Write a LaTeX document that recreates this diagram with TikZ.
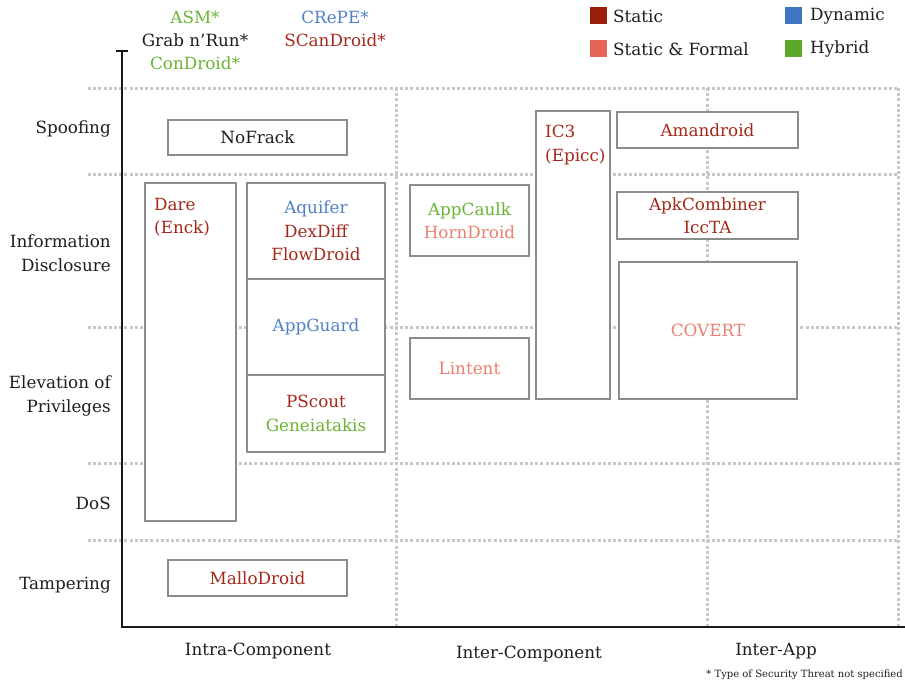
\documentclass[tikz,border=0pt]{standalone}
\usepackage{fontspec}
\setmainfont{DejaVu Serif}
\definecolor{cstatic}{RGB}{165,40,25}
\definecolor{cstaticsq}{RGB}{155,30,10}
\definecolor{cformal}{RGB}{236,128,112}
\definecolor{cformalsq}{RGB}{230,100,85}
\definecolor{cdyn}{RGB}{80,128,200}
\definecolor{cdynsq}{RGB}{63,116,192}
\definecolor{chyb}{RGB}{106,180,52}
\definecolor{chybsq}{RGB}{93,168,41}
\definecolor{cbox}{RGB}{140,140,140}
\definecolor{cgrid}{RGB}{200,200,200}
\definecolor{ctext}{RGB}{30,30,30}
\begin{document}
\begin{tikzpicture}[x=1pt,y=-1pt,
  every node/.style={font=\fontsize{16.8}{23.5}\selectfont, text=ctext, inner sep=0pt},
  gridline/.style={draw=cgrid, line width=3pt, dash pattern=on 3pt off 2.2pt},
  axisline/.style={draw=black!90, line width=2.5pt},
  toolbox/.style={draw=cbox, line width=2.5pt, fill=white, align=center},
  lbl/.style={anchor=east, align=right},
  legsq/.style={minimum width=17pt, minimum height=17pt, anchor=north west}
]
\useasboundingbox (0,0) rectangle (905,685);
% grid
\foreach \yy in {88,174,327,463,540} {\draw[gridline] (88,\yy) -- (898,\yy);}
\foreach \xx in {396,707,898} {\draw[gridline] (\xx,88) -- (\xx,627);}
% axes
\coordinate (ytop) at (122,51);
\coordinate (origin) at (122,627);
\coordinate (xend) at (905,627);
\draw[axisline] (ytop) -- (origin) -- (xend);
\draw[axisline] (116,51) -- (128,51);
% boxes
\node[toolbox, minimum width=179pt, minimum height=35pt] (nofrack) at (257.5,137.5) {NoFrack};
\node[toolbox, minimum width=91pt, minimum height=338pt] (dare) at (190.5,352) {};
\node[anchor=north west, align=left, text=cstatic] (daretxt) at (154,198) {Dare\\(Enck)};
\node[toolbox, minimum width=138pt, minimum height=96pt] (aquifer) at (316,231) {\textcolor{cdyn}{Aquifer}\\\textcolor{cstatic}{DexDiff}\\\textcolor{cstatic}{FlowDroid}};
\node[toolbox, minimum width=138pt, minimum height=96pt, text=cdyn] (appguard) at (316,327) {AppGuard};
\node[toolbox, minimum width=138pt, minimum height=77pt] (pscout) at (316,413.5) {\textcolor{cstatic}{PScout}\\\textcolor{chyb}{Geneiatakis}};
\node[toolbox, minimum width=179pt, minimum height=36pt, text=cstatic] (mallo) at (257.5,578) {MalloDroid};
\node[toolbox, minimum width=119pt, minimum height=71pt] (appcaulk) at (469.5,220.5) {\textcolor{chyb}{AppCaulk}\\\textcolor{cformal}{HornDroid}};
\node[toolbox, minimum width=119pt, minimum height=61pt, text=cformal] (lintent) at (469.5,368.5) {Lintent};
\node[toolbox, minimum width=74pt, minimum height=288pt] (ic3) at (573,255) {};
\node[anchor=north west, align=left, text=cstatic] (ic3txt) at (545,125) {IC3\\(Epicc)};
\node[toolbox, minimum width=181pt, minimum height=36pt, text=cstatic] (amandroid) at (707.5,130) {Amandroid};
\node[toolbox, minimum width=181pt, minimum height=47pt] (apk) at (707.5,215.5) {\textcolor{cstatic}{ApkCombiner}\\\textcolor{cstatic}{IccTA}};
\node[toolbox, minimum width=178pt, minimum height=137pt, text=cformal] (covert) at (708,330.5) {COVERT};
% y labels
\node[lbl] (spoof) at (111,129) {Spoofing};
\node[lbl] (info) at (111,253) {Information\\Disclosure};
\node[lbl] (elev) at (111,396) {Elevation of\\Privileges};
\node[lbl] (dos) at (111,503) {DoS};
\node[lbl] (tamp) at (111,585) {Tampering};
% x labels
\node (intra) at (258,651) {Intra-Component};
\node (inter) at (529,654) {Inter-Component};
\node (interapp) at (776,651) {Inter-App};
\node[anchor=east, font=\fontsize{10}{12}\selectfont] (foot) at (903,675) {* Type of Security Threat not specified};
% top unspecified
\node[text=chyb] (asm) at (195,17) {ASM*};
\node (grab) at (195,40) {Grab n’Run*};
\node[text=chyb] (condroid) at (195,63) {ConDroid*};
\node[text=cdyn] (crepe) at (335,17) {CRePE*};
\node[text=cstatic] (scandroid) at (335,40) {SCanDroid*};
% legend
\node[legsq, fill=cstaticsq] (lgs) at (590,7) {};
\node[anchor=west] (lgst) at (613,16) {Static};
\node[legsq, fill=cformalsq] (lgf) at (590,40) {};
\node[anchor=west] (lgft) at (613,49) {Static \& Formal};
\node[legsq, fill=cdynsq] (lgd) at (785,7) {};
\node[anchor=west] (lgdt) at (810,16) {Dynamic};
\node[legsq, fill=chybsq] (lgh) at (785,40) {};
\node[anchor=west] (lght) at (810,49) {Hybrid};
\end{tikzpicture}
\end{document}
